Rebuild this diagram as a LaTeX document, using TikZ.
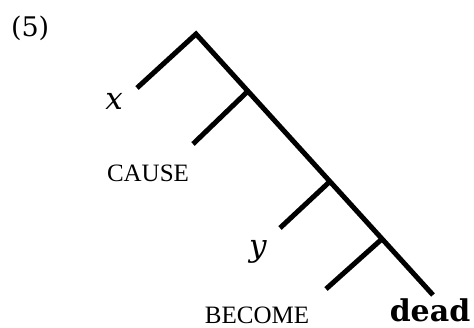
\documentclass[tikz,border=0pt]{standalone}
\usepackage{fontspec}
\usetikzlibrary{calc}
\setmainfont{Liberation Serif}
\newfontfamily\geo{DejaVu Serif}
\begin{document}
\begin{tikzpicture}[x=1pt,y=-1pt,
  branch/.style={line width=5pt,line cap=butt,line join=miter},
  lbl/.style={inner sep=0pt,outer sep=0pt},
  caps/.style={lbl,font=\fontsize{25}{25}\selectfont},
  var/.style={lbl,font=\geo\itshape\fontsize{31}{31}\selectfont}]
\useasboundingbox (0,0) rectangle (474,328);
\coordinate (root) at (196,34);
\coordinate (end) at (433,295);
\coordinate (n1) at ($(root)!0.219!(end)$);
\coordinate (n2) at ($(root)!0.565!(end)$);
\coordinate (n3) at ($(root)!0.785!(end)$);
\coordinate (lx) at (137,88);
\coordinate (lc) at (193,144);
\coordinate (ly) at (280,228);
\coordinate (lb) at (326,289);
\draw[branch] (lx) -- (root) -- (end);
\draw[branch] (n1) -- (lc);
\draw[branch] (n2) -- (ly);
\draw[branch] (n3) -- (lb);
\node[lbl,font=\geo\fontsize{27}{27}\selectfont,anchor=base west] (num) at (11,37) {(5)};
\node[var,anchor=base] (x) at (114,110) {x};
\node[var,anchor=base] (y) at (258,257) {y};
\node[caps,anchor=base] (cause) at (148,182) {CAUSE};
\node[caps,anchor=base] (become) at (257,324) {BECOME};
\node[lbl,font=\geo\bfseries\fontsize{30}{30}\selectfont,anchor=base] (dead) at (430,322) {dead};
\end{tikzpicture}
\end{document}
